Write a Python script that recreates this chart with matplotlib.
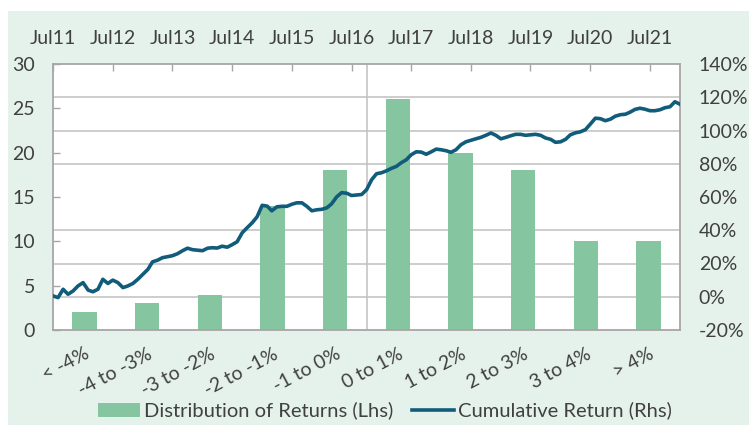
import numpy as np
import pandas as pd
import matplotlib
matplotlib.use('Agg')
import matplotlib.pyplot as plt
import matplotlib.dates as mdates
from matplotlib.patches import Rectangle
from matplotlib.ticker import FuncFormatter

FONT = 'Lato'
TXT = '#404040'
BAR_C = '#85C5A0'
LINE_C = '#115C7A'
GRID_C = '#C0C0C0'
SPINE_C = '#A6A6A6'
BG = '#E5F2EB'

# distribution of monthly returns (lhs)
categories = ['< -4%', '-4 to -3%', '-3 to -2%', '-2 to -1%', '-1 to 0%',
              '0 to 1%', '1 to 2%', '2 to 3%', '3 to 4%', '> 4%']
counts = [2, 3, 4, 14, 18, 26, 20, 18, 10, 10]

# cumulative return in % (rhs), monthly from Jul 2011
start_month = '2011-07-01'
cum_return = [
    0.5, -0.5, 4.5, 1.5, 3.5, 6.5, 8.5, 4.0, 3.0, 4.5,
    10.5, 8.0, 10.0, 8.5, 5.5, 6.5, 8.0, 10.5, 13.5, 16.5,
    21.0, 22.0, 23.5, 24.1, 24.7, 25.9, 27.7, 29.2, 28.3, 28.0,
    27.7, 29.2, 29.5, 29.3, 30.4, 29.8, 31.3, 33.1, 38.5, 41.5,
    44.5, 48.1, 55.0, 54.5, 51.7, 54.1, 54.4, 54.4, 55.6, 56.5,
    56.5, 54.4, 51.7, 52.3, 52.6, 53.5, 55.9, 60.1, 62.6, 62.3,
    60.9, 61.2, 61.5, 64.4, 70.4, 74.0, 74.6, 75.8, 77.2, 78.4,
    80.6, 82.4, 85.4, 87.2, 87.0, 85.7, 87.2, 88.8, 88.4, 87.8,
    86.9, 88.4, 91.4, 93.2, 94.1, 95.0, 95.9, 97.1, 98.5, 97.1,
    95.0, 95.9, 96.8, 97.7, 97.7, 97.1, 97.4, 97.7, 97.1, 95.5,
    94.7, 92.9, 93.2, 94.7, 97.4, 98.6, 99.2, 100.5, 103.8, 107.4,
    107.1, 105.9, 106.8, 108.6, 109.5, 109.8, 111.0, 112.7, 113.4, 112.8,
    111.9, 111.9, 112.5, 113.7, 114.3, 117.3, 115.8]
dates = pd.date_range(start_month, periods=len(cum_return), freq='MS')

left_ticks = [0, 5, 10, 15, 20, 25, 30]
right_ticks = [-20, 0, 20, 40, 60, 80, 100, 120, 140]
year_ticks = pd.date_range('2011-07-01', '2021-07-01', freq='12MS')

plt.rcParams['font.family'] = [FONT, 'DejaVu Sans']
FS = 14

fig = plt.figure(figsize=(7.49, 4.25), dpi=100)
fig.patch.set_facecolor('white')
fig.patches.append(Rectangle((8 / 749, 0), 1, (425 - 11) / 425, transform=fig.transFigure,
                             facecolor=BG, edgecolor='none', zorder=-10))

pos = [53 / 749, (425 - 330) / 425, (680 - 53) / 749, (330 - 64) / 425]
ax = fig.add_axes(pos)
ax.set_facecolor('white')

x = np.arange(len(categories))
bars = ax.bar(x, counts, width=0.39, color=BAR_C, zorder=2, label='Distribution of Returns (Lhs)')
ax.set_xlim(-0.5, len(categories) - 0.5)
ax.set_ylim(0, 30)
ax.set_yticks(left_ticks)
# gridlines follow the right axis
ax.set_yticks([(r - right_ticks[0]) / (right_ticks[-1] - right_ticks[0]) * 30 for r in right_ticks], minor=True)
ax.grid(which='minor', axis='y', color=GRID_C, lw=1.1)
ax.axvline(4.5, color=GRID_C, lw=1.1, zorder=1)
ax.set_axisbelow(True)
ax.tick_params(axis='y', which='major', direction='in', length=5, color=SPINE_C, width=1,
               labelsize=FS, labelcolor=TXT, pad=13)
ax.tick_params(axis='y', which='minor', length=0)
ax.set_xticks(x)
ax.set_xticklabels(categories, rotation=28, ha='right', va='top', rotation_mode='anchor')
ax.tick_params(axis='x', length=0, labelsize=FS, labelcolor=TXT, pad=11)
for sp in ax.spines.values():
    sp.set_color(SPINE_C)
    sp.set_linewidth(1.3)

ax2 = fig.add_axes(pos, frameon=False)
ln, = ax2.plot(dates, cum_return, color=LINE_C, lw=2.6, label='Cumulative Return (Rhs)')
ax2.set_xlim(dates[0], dates[-1])
ax2.set_ylim(right_ticks[0], right_ticks[-1])
ax2.set_yticks(right_ticks)
ax2.yaxis.tick_right()
ax2.yaxis.set_major_formatter(FuncFormatter(lambda v, p: f'{v:.0f}%'))
ax2.tick_params(axis='y', length=0, labelsize=FS, labelcolor=TXT, pad=13.5)
ax2.xaxis.tick_top()
ax2.set_xticks(year_ticks)
ax2.xaxis.set_major_formatter(mdates.DateFormatter('%b%y'))
ax2.tick_params(axis='x', direction='in', length=5, color=SPINE_C, width=1,
                labelsize=FS, labelcolor=TXT, pad=12)

leg = fig.legend(handles=[bars, ln], loc='lower center', bbox_to_anchor=(0.514, -0.03), ncol=2,
                 frameon=False, fontsize=14.5, handlelength=2.1, handletextpad=0.2,
                 columnspacing=0.9, labelcolor=TXT)

fig.savefig('out.png', dpi=100, facecolor=fig.get_facecolor())
